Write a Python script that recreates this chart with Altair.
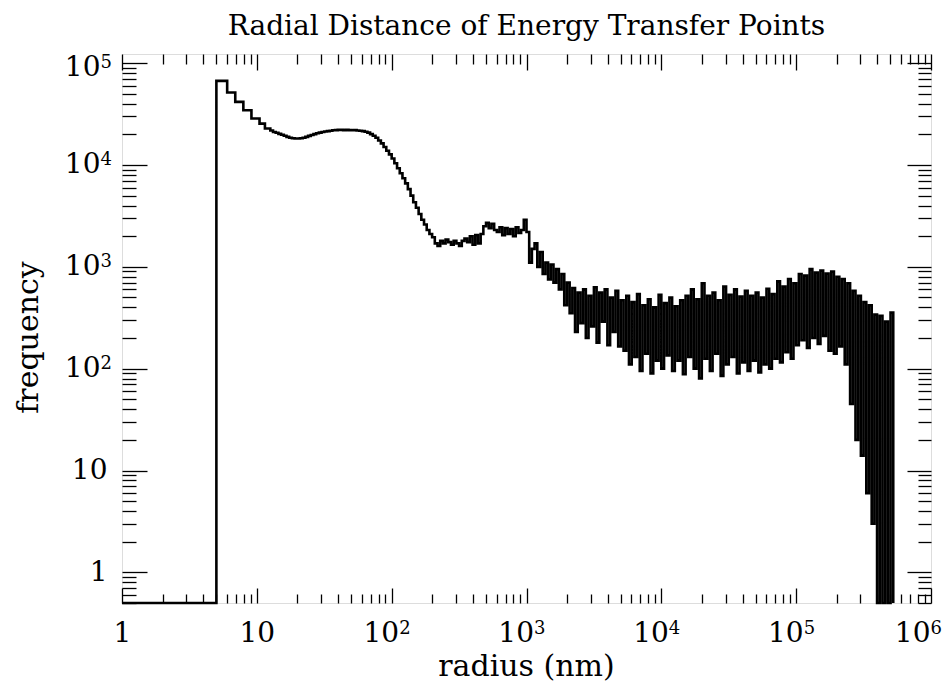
import altair as alt
import pandas as pd

# ---------------- data ----------------
# histogram bins: log-uniform, 0.02 decade wide, first left edge at 10^0.70 nm (~5 nm)
first_edge_log = 0.70
bin_width_log = 0.02
counts = [
    67000, 67000, 67000, 67000, 51500, 51500, 51500, 41700, 41700, 41700,
    34500, 34500, 34500, 28600, 28600, 28600, 25500, 25500, 22800, 22800,
    21800, 21100, 20700, 20200, 19800, 19400, 18900, 18500, 18300, 18200,
    18200, 18300, 18500, 18900, 19300, 19700, 20100, 20500, 20800, 21100,
    21300, 21500, 21700, 21900, 22000, 22100, 22100, 22000, 22100, 22000,
    21900, 22000, 21800, 21700, 21500, 21200, 20800, 20100, 19400, 18500,
    17400, 16300, 15000, 13800, 12700, 11600, 10400, 9300, 8300, 7400,
    6600, 5800, 5000, 4300, 3800, 3300, 2900, 2600, 2300, 2100,
    1950, 1700, 1600, 1800, 1700, 1850, 1750, 1650, 1800, 1700,
    1600, 1800, 1900, 1750, 2000, 1650, 2050, 1700, 2100, 2500,
    2700, 2400, 2650, 2300, 2200, 2450, 2050, 2400, 2100, 2350,
    2000, 2450, 2150, 2300, 2900, 2200, 1100, 1500, 1700, 1000,
    1400, 850, 1100, 750, 1050, 700, 950, 600, 850, 420,
    700, 350, 620, 230, 560, 280, 600, 200, 520, 260,
    630, 180, 560, 290, 600, 170, 500, 230, 580, 165,
    470, 150, 520, 110, 450, 130, 540, 95, 420, 140,
    480, 90, 400, 120, 530, 100, 440, 135, 500, 95,
    410, 120, 470, 88, 520, 130, 600, 100, 480, 80,
    690, 125, 520, 95, 560, 140, 470, 85, 640, 110,
    530, 130, 600, 90, 510, 115, 580, 95, 520, 120,
    560, 92, 500, 110, 610, 100, 540, 125, 720, 115,
    640, 145, 760, 125, 690, 170, 850, 190, 820, 160,
    950, 200, 880, 175, 920, 210, 860, 150, 900, 140,
    800, 165, 760, 110, 690, 45, 580, 20, 520, 14,
    450, 6, 420, 3, 340, 0, 330, 0, 290, 0,
    355,
]
x_major = [1, 10, 100, 1000, 10000, 100000, 1000000]
y_major = [1, 10, 100, 1000, 10000, 100000]
x_domain = [1, 1000000]
y_domain = [0.5, 123000]

title_text = "Radial Distance of Energy Transfer Points"
x_title = "radius (nm)"
y_title = "frequency"

# ---------------- table ----------------
left_edges = [10 ** (first_edge_log + bin_width_log * i) for i in range(len(counts))]
last_edge = 10 ** (first_edge_log + bin_width_log * len(counts))
radius = [x_domain[0]] + left_edges + [last_edge]
freq = [0] + counts + [0]
df = pd.DataFrame({"radius": radius, "freq": freq})
df["plot_freq"] = df["freq"].clip(lower=y_domain[0])  # empty bins drawn on the bottom edge

x_minor = [m * d for d in x_major[:-1] for m in range(2, 10)]
y_minor = [m * d / 10 for d in y_major + [1000000] for m in range(2, 10)]
y_minor = [v for v in y_minor if y_domain[0] <= v <= y_domain[1] and v not in y_major]

FONT = "DejaVu Serif"
xs = alt.Scale(type="log", domain=x_domain, nice=False)
ys = alt.Scale(type="log", domain=y_domain, nice=False)

base = alt.Chart(df)


def layer(xaxis, yaxis, visible=False):
    mark = base.mark_line(
        interpolate="step-after",
        color="black",
        strokeWidth=2.6,
        opacity=1 if visible else 0,
    )
    return mark.encode(
        x=alt.X("radius:Q", scale=xs, axis=xaxis),
        y=alt.Y("plot_freq:Q", scale=ys, axis=yaxis),
    )


def tick_axis(orient, values, size):
    return alt.Axis(
        orient=orient, values=values, labels=False, domain=False, grid=False,
        ticks=True, tickSize=size, offset=-size, tickColor="black",
        tickWidth=1.3, title=None,
    )


big = "datum.value > 50"
last = "datum.value > 5e5"
top = "datum.value > 5e4"

x_label_axis = alt.Axis(
    orient="bottom", values=x_major,
    labelExpr="datum.value < 5 ? '1' : '10'",
    labelFont=FONT, labelFontSize=28, labelColor="black",
    labelAlign={"condition": {"test": big, "value": "right"}, "value": "center"},
    labelOffset={"condition": [{"test": last, "value": -1},
                               {"test": big, "value": 7}], "value": 0},
    labelPadding=16, labelFlush=False, labelOverlap=False,
    ticks=False, tickSize=0, domain=False, grid=False,
    title=x_title, titleFont=FONT, titleFontSize=30, titleFontWeight="normal",
    titleColor="black", titleX=404, titleY=72, titleBaseline="alphabetic",
)
y_label_axis = alt.Axis(
    orient="left", values=y_major,
    labelExpr="datum.value < 5 ? '1' : '10'",
    labelFont=FONT, labelFontSize=28, labelColor="black", labelAlign="right",
    labelPadding={"condition": {"test": big, "value": 22}, "value": 15},
    labelOffset={"condition": {"test": top, "value": 4}, "value": 0},
    labelFlush=False, labelOverlap=False,
    ticks=False, tickSize=0, domain=False, grid=False,
    title=y_title, titleFont=FONT, titleFontSize=30, titleFontWeight="normal",
    titleColor="black", titleX=-85, titleY=283, titleBaseline="alphabetic",
    titleAngle=270,
)

exp_expr = ("datum.value > 5e5 ? '6' : datum.value > 5e4 ? '5' : datum.value > 5e3 ? '4'"
            " : datum.value > 500 ? '3' : datum.value > 50 ? '2' : ''")
x_exp_axis = alt.Axis(
    orient="bottom", values=x_major, labelExpr=exp_expr,
    labelFont=FONT, labelFontSize=18, labelColor="black", labelAlign="left",
    labelOffset={"condition": {"test": last, "value": -1}, "value": 7},
    labelPadding=16, labelFlush=False, labelOverlap=False,
    ticks=False, tickSize=0, domain=False, grid=False, title=None,
)
y_exp_axis = alt.Axis(
    orient="left", values=y_major, labelExpr=exp_expr,
    labelFont=FONT, labelFontSize=18, labelColor="black", labelAlign="left",
    labelOffset={"condition": {"test": top, "value": -1}, "value": -5},
    labelPadding=22, labelFlush=False, labelOverlap=False,
    ticks=False, tickSize=0, domain=False, grid=False, title=None,
)

layers = [
    layer(x_label_axis, y_label_axis, visible=True),
    layer(x_exp_axis, y_exp_axis),
    layer(tick_axis("bottom", x_major, 15), tick_axis("left", y_major, 25)),
    layer(tick_axis("bottom", x_minor, 9), tick_axis("left", y_minor, 14)),
    layer(tick_axis("top", x_major, 16), tick_axis("right", y_major, 24)),
    layer(tick_axis("top", x_minor, 10), tick_axis("right", y_minor, 13)),
]

chart = (
    alt.layer(*layers)
    .resolve_axis(x="independent", y="independent")
    .properties(
        width=809,
        height=549,
        padding={"left": 114, "top": 46, "right": 11, "bottom": 78},
        autosize=alt.AutoSizeParams(type="none"),
        title=alt.TitleParams(
            text=title_text, font=FONT, fontSize=28, fontWeight="normal",
            color="black", anchor="middle", offset=12,
        ),
    )
    .configure_view(stroke="black", strokeWidth=1.5)
    .configure(background="white")
)

chart.save("out.html", embed_options={"renderer": "svg", "actions": False})
